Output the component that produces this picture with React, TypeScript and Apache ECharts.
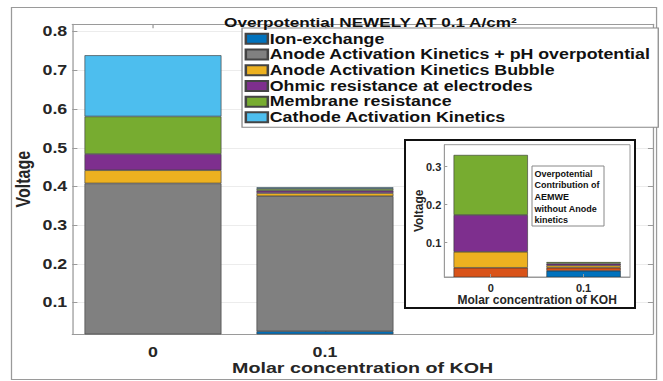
import React, { useEffect, useRef } from "react";
import * as echarts from "echarts";

const categories = ["0", "0.1"];
const seriesNames = [
  "Ion-exchange",
  "Anode Activation Kinetics + pH overpotential",
  "Anode Activation Kinetics Bubble",
  "Ohmic resistance at electrodes",
  "Membrane resistance",
  "Cathode Activation Kinetics",
];
const ionExchange = [0, 0.026];
const anodeKinetics = [0.408, 0.349];
const anodeBubble = [0.034, 0.008];
const ohmicElectrodes = [0.042, 0.006];
const membraneRes = [0.097, 0.005];
const cathodeKinetics = [0.158, 0.004];
const mainYTicks = [0.1, 0.2, 0.3, 0.4, 0.5, 0.6, 0.7, 0.8];
const insetYTicks = [0.1, 0.2, 0.3];
const titleText = "Overpotential NEWELY AT 0.1 A/cm²";
const xName = "Molar concentration of KOH";
const yName = "Voltage";
const insetNote = "Overpotential\nContribution of\nAEMWE\nwithout Anode\nkinetics";

const mainColors = ["#0072BD", "#808080", "#EDB120", "#7E2F8E", "#77AC30", "#4DBEEE"];
const insetColors = ["#0072BD", "#D95319", "#EDB120", "#7E2F8E", "#77AC30"];

const FONT = "'Liberation Sans', Arial, Helvetica, sans-serif";
const TXT = "#262626";
// the main figure is horizontally stretched in the reference
const S = 1.27;
const MAIN_W = Math.round(663 / S);
const sx = (v: number) => v / S;

export default function App() {
  const mainRef = useRef<HTMLDivElement>(null);
  const insetRef = useRef<HTMLDivElement>(null);
  useEffect(() => {
    if (!mainRef.current || !insetRef.current) return;
    const main = echarts.init(mainRef.current, undefined, { renderer: "svg" });
    const inset = echarts.init(insetRef.current, undefined, { renderer: "svg" });
    const mainData = [ionExchange, anodeKinetics, anodeBubble, ohmicElectrodes, membraneRes, cathodeKinetics];
    const insetData = [ionExchange, anodeBubble, ohmicElectrodes, membraneRes, cathodeKinetics];
    const insetNames = [seriesNames[0], seriesNames[2], seriesNames[3], seriesNames[4], seriesNames[5]];
    const catPos = categories.map((_, i) => i + 1);
    const axisLineStyle = { color: "#9a9a9a", width: 1 };

    const mainSeries = mainData.map((arr, k) => ({
      name: seriesNames[k],
      type: "bar",
      stack: "main",
      barWidth: sx(137),
      encode: { x: 1, y: 0 },
      data: arr.map((v, i) => [v, catPos[i]]),
      itemStyle: { color: mainColors[k], borderColor: "#444", borderWidth: 0.6 },
    }));

    main.setOption({
      animation: false,
      backgroundColor: "#ffffff",
      textStyle: { fontFamily: FONT },
      title: {
        text: titleText,
        left: sx(364),
        top: 10,
        textAlign: "center",
        textStyle: { fontSize: 13.5, fontWeight: "bold", color: "#111", fontFamily: FONT },
      },
      legend: {
        data: seriesNames,
        orient: "vertical",
        left: sx(242),
        top: 28,
        selectedMode: false,
        icon: "rect",
        itemWidth: sx(22),
        itemHeight: 10,
        itemGap: 0,
        padding: [3, 6, 2, 2],
        borderColor: "#888",
        borderWidth: 1,
        backgroundColor: "#fff",
        textStyle: {
          fontSize: 14,
          fontWeight: "bold",
          color: "#111",
          lineHeight: 15.7,
          fontFamily: FONT,
          padding: [0, 0, 0, -3.5],
        },
      },
      grid: { left: sx(72.3), top: 24.3, right: sx(10), bottom: 43.3, show: false },
      xAxis: [
        {
          type: "value",
          min: 0.531,
          max: 3.907,
          axisLine: { show: true, lineStyle: axisLineStyle },
          axisTick: { show: true, inside: true, length: 4, customValues: catPos, lineStyle: axisLineStyle },
          axisLabel: {
            customValues: catPos,
            formatter: (v: number) => categories[Math.round(v) - 1] ?? "",
            fontSize: 14,
            fontWeight: "bold",
            color: TXT,
            margin: 11,
            fontFamily: FONT,
          },
          splitLine: { show: false },
          name: xName,
          nameLocation: "middle",
          nameGap: 26,
          nameMoveOverlap: false,
          nameTextStyle: { fontSize: 15.5, fontWeight: "bold", color: TXT, fontFamily: FONT },
        },
        {
          type: "value",
          position: "top",
          min: 0.531,
          max: 3.907,
          axisLine: { show: true, lineStyle: axisLineStyle },
          axisTick: { show: true, inside: true, length: 4, customValues: catPos, lineStyle: axisLineStyle },
          axisLabel: { show: false },
          splitLine: { show: false },
        },
      ],
      yAxis: [
        {
          type: "value",
          min: 0.019,
          max: 0.819,
          axisLine: { show: true, lineStyle: axisLineStyle },
          axisTick: { show: true, inside: true, length: 4, customValues: mainYTicks, lineStyle: axisLineStyle },
          axisLabel: {
            customValues: mainYTicks,
            formatter: (v: number) => String(v),
            fontSize: 14,
            fontWeight: "bold",
            color: TXT,
            margin: 4,
            fontFamily: FONT,
          },
          splitLine: { show: true, lineStyle: { color: "#ececec", width: 1 } },
          name: yName,
          nameLocation: "middle",
          nameGap: 31,
          nameMoveOverlap: false,
          nameTextStyle: { fontSize: 16, fontWeight: "bold", color: TXT, fontFamily: FONT },
        },
        {
          type: "value",
          position: "right",
          min: 0.019,
          max: 0.819,
          axisLine: { show: true, lineStyle: axisLineStyle },
          axisTick: { show: true, inside: true, length: 4, customValues: mainYTicks, lineStyle: axisLineStyle },
          axisLabel: { show: false },
          splitLine: { show: false },
        },
      ],
      graphic: [
        {
          type: "rect",
          z: 0,
          silent: true,
          shape: { x: sx(11.5), y: 7.5, width: sx(645), height: 372 },
          style: { fill: "none", stroke: "#9a9a9a", lineWidth: 1 },
        },
      ],
      series: mainSeries,
    });

    const insetSeries = insetData.map((arr, k) => ({
      name: insetNames[k],
      type: "bar",
      stack: "inset",
      barWidth: "80%",
      z: 20,
      data: arr,
      itemStyle: { color: insetColors[k], borderColor: "#333", borderWidth: 0.6 },
    }));

    inset.setOption({
      animation: false,
      textStyle: { fontFamily: FONT },
      grid: { left: 444.3, top: 144.7, right: 33, bottom: 104, show: true, z: 11, backgroundColor: "#fff", borderColor: "#999", borderWidth: 1 },
      xAxis: {
        type: "category",
        data: categories,
        z: 21,
        axisLine: { show: true, lineStyle: axisLineStyle },
        axisTick: { show: true, inside: true, alignWithLabel: true, length: 3, lineStyle: axisLineStyle },
        axisLabel: { fontSize: 11, fontWeight: "bold", color: TXT, margin: 5, fontFamily: FONT },
        name: xName,
        nameLocation: "middle",
        nameGap: 17,
        nameMoveOverlap: false,
        nameTextStyle: { fontSize: 12, fontWeight: "bold", color: TXT, fontFamily: FONT },
      },
      yAxis: {
        type: "value",
        min: 0.0097,
        max: 0.358,
        z: 21,
        axisLine: { show: true, lineStyle: axisLineStyle },
        axisTick: { show: true, inside: true, length: 3, customValues: insetYTicks, lineStyle: axisLineStyle },
        axisLabel: {
          customValues: insetYTicks,
          formatter: (v: number) => String(v),
          fontSize: 11,
          fontWeight: "bold",
          color: TXT,
          margin: 3,
          fontFamily: FONT,
        },
        splitLine: { show: false },
        name: yName,
        nameLocation: "middle",
        nameGap: 19,
        nameMoveOverlap: false,
        nameTextStyle: { fontSize: 12, fontWeight: "bold", color: TXT, fontFamily: FONT },
      },
      graphic: [
        {
          type: "rect",
          z: 10,
          silent: true,
          shape: { x: 405, y: 140, width: 230, height: 168 },
          style: { fill: "#fff", stroke: "#111", lineWidth: 2 },
        },
        {
          type: "rect",
          z: 30,
          silent: true,
          shape: { x: 532, y: 166, width: 72, height: 60 },
          style: { fill: "#fff", stroke: "#888", lineWidth: 1 },
        },
        {
          type: "text",
          z: 31,
          silent: true,
          x: 534.5,
          y: 168,
          style: {
            text: insetNote,
            font: `bold 9px ${FONT}`,
            fill: "#111",
            lineHeight: 11.6,
          },
        },
      ],
      series: insetSeries,
    });
    return () => {
      main.dispose();
      inset.dispose();
    };
  }, []);
  return (
    <div style={{ position: "fixed", left: 0, top: 0, width: 663, height: 381, overflow: "hidden", background: "#fff" }}>
      <div
        ref={mainRef}
        style={{
          position: "absolute",
          left: 0,
          top: 0,
          width: MAIN_W,
          height: 381,
          transform: `scaleX(${663 / MAIN_W})`,
          transformOrigin: "0 0",
        }}
      />
      <div ref={insetRef} style={{ position: "absolute", left: 0, top: 0, width: 663, height: 381 }} />
    </div>
  );
}
